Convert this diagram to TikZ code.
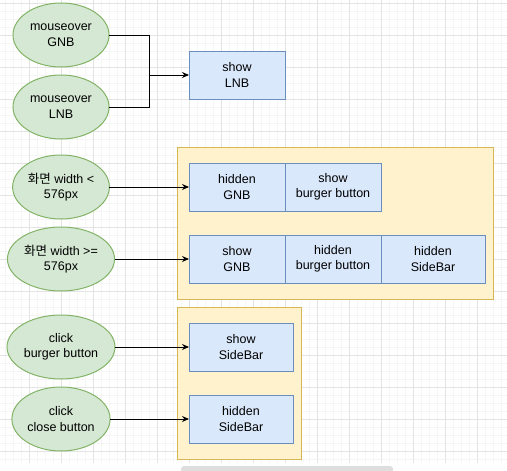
\documentclass[tikz,border=0pt]{standalone}
\usepackage{fontspec}
\setmainfont{Liberation Sans}
\newfontfamily\krfont{Noto Sans CJK KR}
\usetikzlibrary{shapes.geometric, arrows.meta, positioning}

\definecolor{evfill}{HTML}{D5E8D4}
\definecolor{evline}{HTML}{82B366}
\definecolor{actfill}{HTML}{DAE8FC}
\definecolor{actline}{HTML}{6C8EBF}
\definecolor{grpfill}{HTML}{FFF2CC}
\definecolor{grpline}{HTML}{D6B656}
\definecolor{gridmajor}{HTML}{E4E4E4}
\definecolor{gridminor}{HTML}{F5F5F5}
\definecolor{scrollbar}{HTML}{DEDEDE}

\begin{document}
\begin{tikzpicture}[
        x=1pt, y=-1pt,
        base/.style={
            draw, align=center, outer sep=0pt, line width=1pt,
            font=\fontsize{12.5}{15.5}\selectfont
        },
        ev/.style={base, ellipse, fill=evfill, draw=evline, minimum width=96pt, minimum height=64pt, inner sep=1pt},
        act/.style={base, fill=actfill, draw=actline, minimum width=96pt, minimum height=48pt, inner sep=2pt},
        actwide/.style={act, minimum width=104pt},
        grp/.style={draw=grpline, fill=grpfill, line width=1pt, anchor=north west, outer sep=0pt, inner sep=0pt},
        wire/.style={line width=1pt},
        arrow/.style={wire, -{Stealth[length=7pt, width=6pt]}}
    ]
        \useasboundingbox (0,0) rectangle (507,471);

        % Grid
        \foreach \x in {5,13,...,501} \draw[gridminor, line width=1pt] (\x,0) -- (\x,463);
        \foreach \y in {3,11,...,459} \draw[gridminor, line width=1pt] (0,\y) -- (507,\y);
        \foreach \x in {29,61,...,477} \draw[gridmajor, line width=1pt] (\x,0) -- (\x,463);
        \foreach \y in {3,35,...,451} \draw[gridmajor, line width=1pt] (0,\y) -- (507,\y);
        \fill[scrollbar, rounded corners=3pt] (181,466) rectangle (393,477);

        % Groups
        \node[grp, minimum width=316pt, minimum height=152pt] (grpres) at (177,147) {};
        \node[grp, minimum width=124pt, minimum height=152pt] (grpside) at (177,307) {};

        % Events
        \node[ev] (mgnb) at (61,35) {mouseover\\GNB};
        \node[ev, below=8pt of mgnb] (mlnb) {mouseover\\LNB};
        \node[ev, below=16pt of mlnb] (narrow) {{\krfont 화면} width <\\576px};
        \node[ev, below=8pt of narrow] (wide) {{\krfont 화면} width >=\\576px};
        \node[ev, below=24pt of wide] (cburger) {click\\burger button};
        \node[ev, below=8pt of cburger] (cclose) {click\\close button};

        % Actions
        \node[act] (slnb) at (237,75) {show\\LNB};

        \node[act] (hgnb) at (237,187) {hidden\\GNB};
        \node[act, right=0pt of hgnb] (sburger) {show\\burger button};

        \node[act] (sgnb) at (237,259) {show\\GNB};
        \node[act, right=0pt of sgnb] (hburger) {hidden\\burger button};
        \node[actwide, right=0pt of hburger] (hside) {hidden\\SideBar};

        \node[actwide] (sside2) at (241,347) {show\\SideBar};
        \node[actwide, below=24pt of sside2] (hside2) {hidden\\SideBar};

        % Arrows
        \coordinate (join) at (149,75);
        \draw[wire] (mgnb.east) -| (join);
        \draw[wire] (mlnb.east) -| (join);
        \draw[arrow] (join) -- (slnb);
        \draw[arrow] (narrow) -- (hgnb);
        \draw[arrow] (wide) -- (sgnb);
        \draw[arrow] (cburger) -- (sside2);
        \draw[arrow] (cclose) -- (hside2);

\end{tikzpicture}
\end{document}
